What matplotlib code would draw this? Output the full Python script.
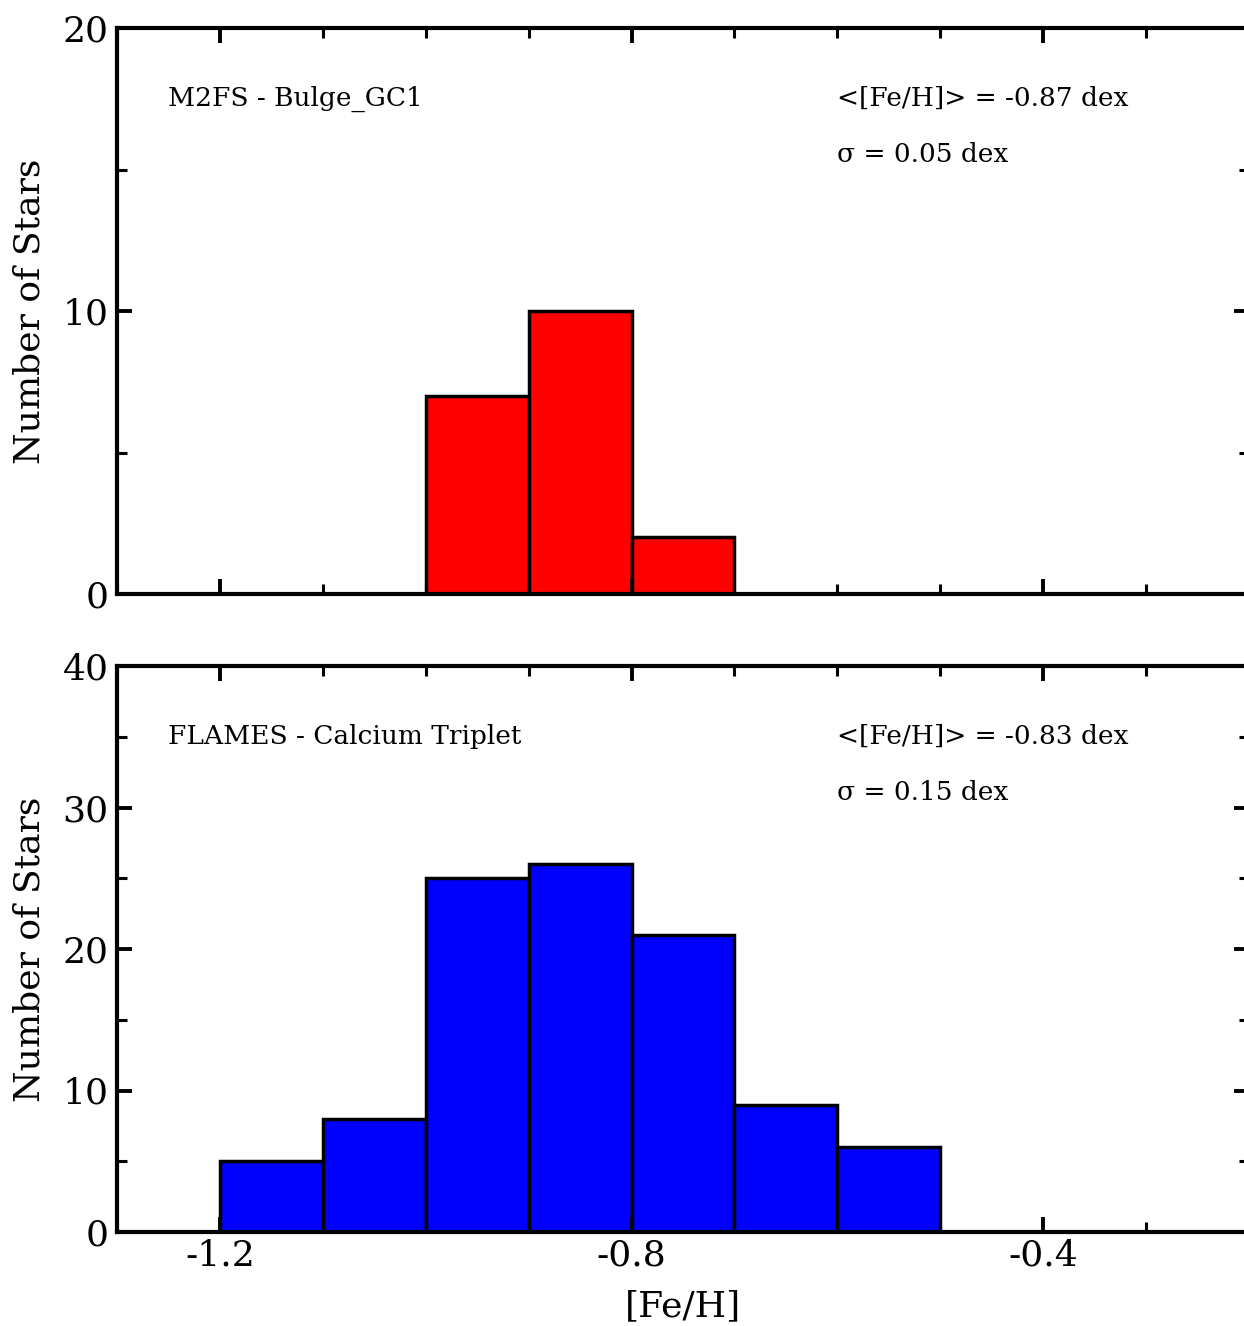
import matplotlib
matplotlib.use("Agg")
import matplotlib.pyplot as plt
from matplotlib.ticker import MultipleLocator

# M2FS - Bulge_GC1 histogram
top_edges = [-1.0, -0.9, -0.8]
top_counts = [7, 10, 2]
top_label = "M2FS - Bulge_GC1"
top_stats = ["<[Fe/H]> = -0.87 dex", "\u03c3 = 0.05 dex"]

# FLAMES - Calcium Triplet histogram
bot_edges = [-1.2, -1.1, -1.0, -0.9, -0.8, -0.7, -0.6]
bot_counts = [5, 8, 25, 26, 21, 9, 6]
bot_label = "FLAMES - Calcium Triplet"
bot_stats = ["<[Fe/H]> = -0.83 dex", "\u03c3 = 0.15 dex"]

bin_width = 0.1

plt.rcParams["font.family"] = ["DejaVu Serif"]

W, H = 1244, 1326
fig = plt.figure(figsize=(W / 100, H / 100), dpi=100)


def px_axes(left, top, right, bottom):
    return fig.add_axes([left / W, 1 - bottom / H, (right - left) / W, (bottom - top) / H])


ax1 = px_axes(117, 28, 1249, 594)
ax2 = px_axes(117, 666, 1249, 1232)


def style(ax, ymax, show_xlabels):
    ax.set_xlim(-1.3, -0.2)
    ax.set_ylim(0, ymax)
    ax.xaxis.set_major_locator(MultipleLocator(0.4))
    ax.xaxis.set_minor_locator(MultipleLocator(0.1))
    ax.yaxis.set_major_locator(MultipleLocator(10))
    ax.yaxis.set_minor_locator(MultipleLocator(5))
    ax.tick_params(which="both", direction="in", top=True, right=True,
                   labelsize=26)
    ax.tick_params(axis="y", pad=6)
    ax.tick_params(axis="x", pad=5)
    ax.tick_params(which="major", length=11, width=2.8)
    ax.tick_params(which="minor", length=7, width=2.2)
    for s in ax.spines.values():
        s.set_linewidth(3)
    if show_xlabels:
        ax.set_xticks([-1.2, -0.8, -0.4])
        ax.set_xticklabels(["-1.2", "-0.8", "-0.4"])
    else:
        ax.tick_params(labelbottom=False)
    ax.set_ylabel("Number of Stars", fontsize=26)
    ax.yaxis.set_label_coords(-0.062, 0.5)


ax1.bar(top_edges, top_counts, width=bin_width, align="edge",
        color="#ff0000", edgecolor="black", linewidth=2.5)
ax2.bar(bot_edges, bot_counts, width=bin_width, align="edge",
        color="#0000ff", edgecolor="black", linewidth=2.5)

style(ax1, 20, False)
style(ax2, 40, True)

for ax, lab, stats in [(ax1, top_label, top_stats), (ax2, bot_label, bot_stats)]:
    ax.text(0.045, 0.875, lab, transform=ax.transAxes, fontsize=19, va="center")
    ax.text(0.636, 0.875, stats[0], transform=ax.transAxes, fontsize=19, va="center")
    ax.text(0.636, 0.777, stats[1], transform=ax.transAxes, fontsize=19, va="center")

ax2.set_xlabel("[Fe/H]", fontsize=26, labelpad=12)

fig.savefig("out.png", dpi=100)
